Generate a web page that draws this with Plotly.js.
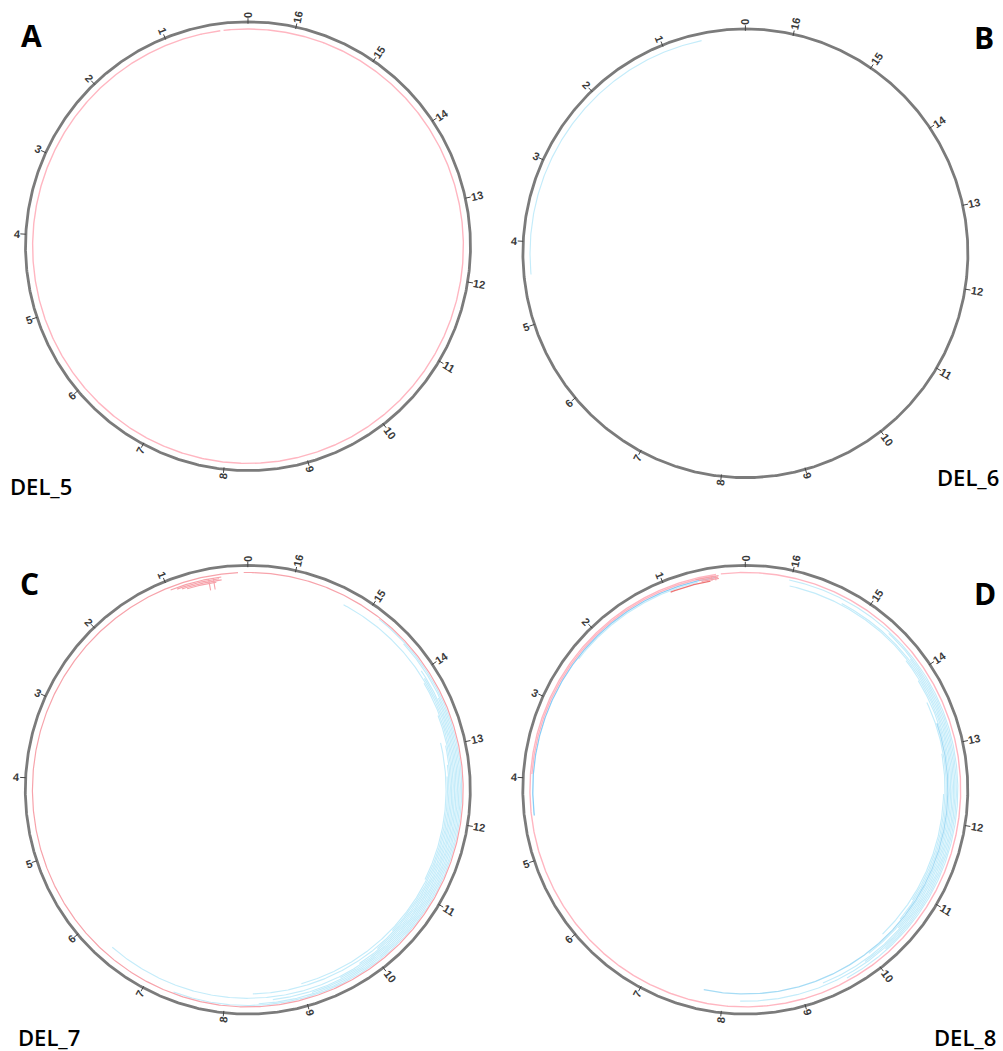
<!DOCTYPE html>
<html>
<head>
<meta charset="utf-8">
<script src="https://cdn.plot.ly/plotly-3.0.1.min.js"></script>
<style>
html,body{margin:0;padding:0;background:#ffffff;}
#chart{width:1003px;height:1051px;}
</style>
</head>
<body>
<div id="chart"></div>
<script>
// ---------------- DATA ----------------
const GENOME_KB = 16.569;
const tickKb = [0,1,2,3,4,5,6,7,8,9,10,11,12,13,14,15,16];
const tickLabels = ['0','1','2','3','4','5','6','7','8','9','10','11','12','13','14','15','16'];

const panelLetters = ['A','B','C','D'];
const sampleNames = ['DEL_5','DEL_6','DEL_7','DEL_8'];

// arcs: start kb -> end kb (counter-clockwise, wraps past 0 when end < start), track (0 = outermost), class
const del5Start = [0.34];
const del5End   = [0.30];
const del5Track = [0];
const del5Class = ['pink'];

const del6Start = [0.54];
const del6End   = [4.40];
const del6Track = [0];
const del6Class = ['blue'];

const del7Start = [0.12, 7.35, 8.42, 9.10, 8.60, 9.50, 6.40, 9.80, 10.10, 8.35, 10.40, 9.00, 11.20, 0.33, 0.36, 0.33, 0.40];
const del7End   = [0.05, 14.83, 14.40, 13.60, 14.00, 13.90, 15.30, 13.85, 13.40, 13.00, 12.75, 12.60, 13.05, 0.98, 0.90, 0.84, 0.78];
const del7Track = [0, 1, 2, 3, 4, 5, 6, 7, 8, 9, 10, 11, 12, 2, 3, 4, 5];
const del7Class = ['salmon','blue','blue','blue','blue','blue','blue','blue','blue','blue','blue','blue','blue','salmon','salmon','salmon','salmon'];
const del7MarkKb = [0.43, 0.49];
const del7MarkTrackOuter = [2, 2];
const del7MarkTrackInner = [10, 10];

const del8Start = [0.36, 0.40, 0.36, 0.60, 9.60, 10.20, 8.22, 9.90, 9.30, 10.50, 10.00, 7.74, 10.60, 10.90, 10.30, 0.33, 0.34, 0.33, 0.44];
const del8End   = [0.30, 3.95, 4.46, 2.40, 16.02, 14.60, 14.18, 15.30, 16.00, 14.20, 13.90, 13.30, 13.60, 12.90, 12.37, 0.62, 0.58, 0.55, 0.96];
const del8Track = [0, 1, 2, 3, 2, 3, 4, 5, 6, 7, 8, 9, 10, 11, 12, 1, 2, 3, 4];
const del8Class = ['pink','pink','skyblue','blue','blue','blue','blue','blue','blue','blue','blue','midblue','blue','blue','blue','salmon','salmon','salmon','coral'];
const del8MarkKb = [0.37, 0.42];
const del8MarkTrackOuter = [1, 1];
const del8MarkTrackInner = [4, 4];

// ---------------- STYLE / GEOMETRY ----------------
const W = 1003, H = 1051;
const EXT = 1.085;
const RX = 222.5, RY = 224.4;           // px of the genome circle
const panelCenters = [[248, 246.2], [745.4, 253.3], [247.8, 789.7], [745.3, 789.7]];
const letterPos = [[31, 36], [984, 37], [29, 583], [985, 593]];
const namePos = [[41, 486], [967.5, 477], [49, 1037], [965, 1037]];
const TRACK_R0 = 0.968, TRACK_STEP = 0.0064;
const classColor = {
  pink: '#ffb6c1', salmon: '#f7a3ab', coral: '#ee7575',
  blue: '#c4ecfa', midblue: '#a6dcf5', skyblue: '#88cef7'
};
const classWidth = {pink: 1.4, salmon: 1.2, coral: 1.3, blue: 1.15, midblue: 1.3, skyblue: 1.3};
const classOrder = ['blue','midblue','skyblue','pink','salmon','coral'];

const panelsData = [
  {start: del5Start, end: del5End, track: del5Track, cls: del5Class, mk: [], mo: [], mi: []},
  {start: del6Start, end: del6End, track: del6Track, cls: del6Class, mk: [], mo: [], mi: []},
  {start: del7Start, end: del7End, track: del7Track, cls: del7Class, mk: del7MarkKb, mo: del7MarkTrackOuter, mi: del7MarkTrackInner},
  {start: del8Start, end: del8End, track: del8Track, cls: del8Class, mk: del8MarkKb, mo: del8MarkTrackOuter, mi: del8MarkTrackInner}
];

function ang(kb) { return kb / GENOME_KB * 2 * Math.PI; }
function trackR(t) { return TRACK_R0 - TRACK_STEP * t; }
function pushArc(xs, ys, s, e, r) {
  if (e < s) e += GENOME_KB;
  const n = Math.max(2, Math.ceil((e - s) / GENOME_KB * 900));
  for (let i = 0; i <= n; i++) {
    const t = ang(s + (e - s) * i / n);
    xs.push(-Math.sin(t) * r);
    ys.push(Math.cos(t) * r);
  }
  xs.push(null); ys.push(null);
}

const traces = [];
const annotations = [];
const layout = {
  width: W, height: H,
  margin: {l: 0, r: 0, t: 0, b: 0},
  paper_bgcolor: '#ffffff', plot_bgcolor: 'rgba(0,0,0,0)',
  showlegend: false,
  annotations: annotations
};

panelsData.forEach((pd, i) => {
  const xa = i === 0 ? 'x' : 'x' + (i + 1);
  const ya = i === 0 ? 'y' : 'y' + (i + 1);
  const [cx, cy] = panelCenters[i];
  layout[i === 0 ? 'xaxis' : 'xaxis' + (i + 1)] = {
    domain: [(cx - EXT * RX) / W, (cx + EXT * RX) / W], range: [-EXT, EXT],
    visible: false, fixedrange: true, anchor: ya
  };
  layout[i === 0 ? 'yaxis' : 'yaxis' + (i + 1)] = {
    domain: [(H - cy - EXT * RY) / H, (H - cy + EXT * RY) / H], range: [-EXT, EXT],
    visible: false, fixedrange: true, anchor: xa
  };

  // genome circle
  const gx = [], gy = [];
  pushArc(gx, gy, 0, GENOME_KB - 1e-9, 1);
  traces.push({type: 'scatter', mode: 'lines', x: gx, y: gy, xaxis: xa, yaxis: ya,
    line: {color: '#7b7b7b', width: 2.8}, hoverinfo: 'skip'});

  // ticks
  const tx = [], ty = [];
  tickKb.forEach(k => {
    const t = ang(k);
    [1.0, 1 + 5.5 / RX].forEach(r => { tx.push(-Math.sin(t) * r); ty.push(Math.cos(t) * r * RX / RY); });
    tx.push(null); ty.push(null);
  });
  traces.push({type: 'scatter', mode: 'lines', x: tx, y: ty, xaxis: xa, yaxis: ya,
    line: {color: '#444444', width: 1}, hoverinfo: 'skip'});

  // tick labels
  tickKb.forEach((k, j) => {
    const t = ang(k);
    const deg = t * 180 / Math.PI;
    const txt = tickLabels[j];
    const rpx = 223 + 5 + txt.length * 6.4 / 2;
    const angle = deg <= 180 ? 90 - deg : 270 - deg;
    annotations.push({
      xref: xa, yref: ya, x: -Math.sin(t) * rpx / RX, y: Math.cos(t) * rpx / RY,
      text: txt, showarrow: false, textangle: angle,
      xanchor: 'center', yanchor: 'middle',
      font: {family: 'Liberation Sans, Arial, sans-serif', size: 11, color: '#3a3a3a', weight: 700}
    });
  });

  // arcs by class
  classOrder.forEach(c => {
    const ax = [], ay = [];
    pd.start.forEach((s, j) => {
      if (pd.cls[j] !== c) return;
      pushArc(ax, ay, s, pd.end[j], trackR(pd.track[j]));
    });
    if (ax.length) {
      traces.push({type: 'scatter', mode: 'lines', x: ax, y: ay, xaxis: xa, yaxis: ya,
        line: {color: classColor[c], width: classWidth[c]}, hoverinfo: 'skip'});
    }
  });

  // radial breakpoint marks
  if (pd.mk.length) {
    const mx = [], my = [];
    pd.mk.forEach((k, j) => {
      const t = ang(k);
      [trackR(pd.mo[j]), trackR(pd.mi[j])].forEach(r => { mx.push(-Math.sin(t) * r); my.push(Math.cos(t) * r); });
      mx.push(null); my.push(null);
    });
    traces.push({type: 'scatter', mode: 'lines', x: mx, y: my, xaxis: xa, yaxis: ya,
      line: {color: classColor.salmon, width: 1.1}, hoverinfo: 'skip'});
  }

  // panel letter and sample name
  annotations.push({xref: 'paper', yref: 'paper', x: letterPos[i][0] / W, y: 1 - letterPos[i][1] / H,
    text: panelLetters[i], showarrow: false, xanchor: 'center', yanchor: 'middle',
    font: {family: 'Open Sans, Liberation Sans, sans-serif', size: 30, color: '#000000', weight: 700}});
  annotations.push({xref: 'paper', yref: 'paper', x: namePos[i][0] / W, y: 1 - namePos[i][1] / H,
    text: sampleNames[i], showarrow: false, xanchor: 'center', yanchor: 'middle',
    font: {family: 'Open Sans, Liberation Sans, sans-serif', size: 22, color: '#000000', weight: 600}});
});

Plotly.newPlot('chart', traces, layout, {staticPlot: true, displayModeBar: false});
</script>
</body>
</html>
